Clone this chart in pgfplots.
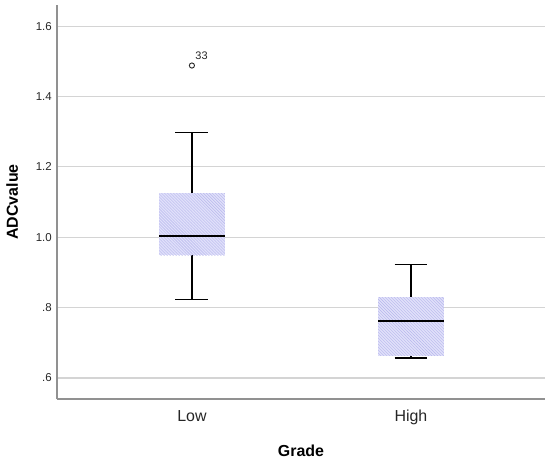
\documentclass[border=0pt]{standalone}
\usepackage{pgfplots}
\pgfplotsset{compat=1.18}
\usepgfplotslibrary{statistics}
\usetikzlibrary{patterns}
\usepackage{fontspec}
\setmainfont{Liberation Sans}
\definecolor{boxfill}{RGB}{224,224,250}
\definecolor{hatch}{RGB}{182,182,236}
\definecolor{gridc}{RGB}{212,212,212}
\definecolor{axc}{RGB}{145,145,145}
\pgfplotsset{
  boxplot/spssbox/.style={
    every box/.style={draw=none, fill=boxfill,
      postaction={draw=none, pattern=north west lines, pattern color=hatch}},
    every median/.style={draw=black, line width=2.3pt},
    every whisker/.style={draw=black, line width=1.3pt},
    box extend=0.3, whisker extend=0.15},
}
\begin{document}
\begin{tikzpicture}
\begin{axis}[
  scale only axis,
  width=488bp, height=394bp,
  xmin=0.384, xmax=2.612,
  ymin=0.5404, ymax=1.66,
  axis x line*=bottom, axis y line*=left,
  axis line style={axc, line width=1.1pt, -},
  xtick={1,2}, xticklabels={Low,High},
  ytick={0.6,0.8,1.0,1.2,1.4,1.6},
  yticklabels={.6,.8,1.0,1.2,1.4,1.6},
  major tick length=0pt,
  ymajorgrids, grid style={gridc, line width=1.1pt},
  yticklabel style={font=\fontsize{11.5}{13}\selectfont, text=black!85,
    anchor=east, inner sep=0pt, xshift=-5bp},
  xticklabel style={font=\fontsize{16}{18}\selectfont, text=black!85,
    anchor=north, inner sep=0pt, yshift=-11bp},
  xlabel={\textbf{Grade}}, ylabel={\textbf{ADCvalue}},
  label style={font=\fontsize{16}{18}\selectfont, inner sep=0pt},
  xlabel style={at={([yshift=-46bp]axis description cs:0.5,0)}, anchor=north},
  ylabel style={at={([xshift=-38.7bp]axis description cs:0,0.5)}, anchor=south},
  clip=false,
  boxplot/draw direction=y,
]
\addplot[boxplot prepared={
    draw position=1, median=1.003, upper quartile=1.125, lower quartile=0.949,
    upper whisker=1.298, lower whisker=0.824, spssbox},
  mark=o, mark size=2.6pt, mark options={black!85, line width=0.9pt}]
  table[row sep=\\, y index=0] {1.488\\};
\addplot[boxplot prepared={
    draw position=2, median=0.762, upper quartile=0.830, lower quartile=0.664,
    upper whisker=0.923, lower whisker=0.657, spssbox}]
  coordinates {};
\node[anchor=base west, font=\fontsize{11}{12}\selectfont, text=black!85, inner sep=0pt]
  at (axis cs:1.015,1.505) {33};
\end{axis}
\pgfresetboundingbox
\path[use as bounding box] ([xshift=-57bp,yshift=-60bp]current axis.south west)
  rectangle ([xshift=5bp,yshift=5bp]current axis.north east);
\end{tikzpicture}
\end{document}
